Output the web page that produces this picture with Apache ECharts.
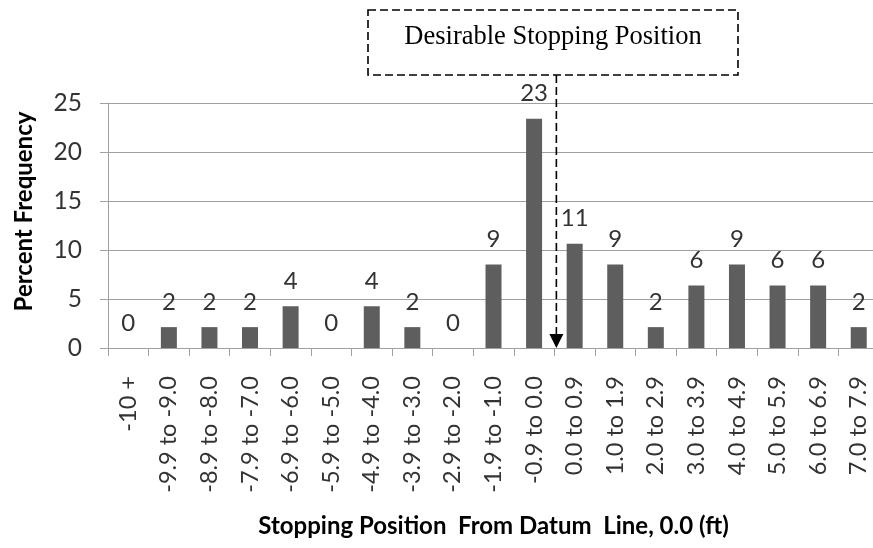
<!DOCTYPE html>
<html>
<head>
<meta charset="utf-8">
<script src="https://cdn.jsdelivr.net/npm/echarts@6.0.0/dist/echarts.min.js"></script>
<style>
    html, body { margin: 0; padding: 0; background: #ffffff; }
    #chart { width: 873px; height: 548px; }
</style>
</head>
<body>
<div id="chart"></div>
<script>
    // stopping position bins (ft from datum line)
    var categories = [
        '-10 +', '-9.9 to -9.0', '-8.9 to -8.0', '-7.9 to -7.0', '-6.9 to -6.0',
        '-5.9 to -5.0', '-4.9 to -4.0', '-3.9 to -3.0', '-2.9 to -2.0', '-1.9 to -1.0',
        '-0.9 to 0.0', '0.0 to 0.9', '1.0 to 1.9', '2.0 to 2.9', '3.0 to 3.9',
        '4.0 to 4.9', '5.0 to 5.9', '6.0 to 6.9', '7.0 to 7.9'
    ];
    // percent frequency per bin
    var percentFrequency = [
        0, 2.13, 2.13, 2.13, 4.26,
        0, 4.26, 2.13, 0, 8.51,
        23.40, 10.64, 8.51, 2.13, 6.38,
        8.51, 6.38, 6.38, 2.13
    ];
    var yTicks = [0, 5, 10, 15, 20, 25];
    var annotationText = 'Desirable Stopping Position';
    var arrowBetween = ['-0.9 to 0.0', '0.0 to 0.9'];

    var font = 'Lato, "Noto Sans", sans-serif';
    var chart = echarts.init(document.getElementById('chart'));

    var option = {
        backgroundColor: '#ffffff',
        animation: false,
        grid: {
            left: 108,
            right: -6,
            top: 103,
            bottom: 200,
            outerBoundsMode: 'none'
        },
        xAxis: {
            type: 'category',
            data: categories,
            name: 'Stopping Position  From Datum  Line, 0.0 (ft)',
            nameLocation: 'middle',
            nameGap: 166,
            nameTextStyle: {
                fontFamily: font,
                fontWeight: 'bold',
                fontSize: 24,
                color: '#000000'
            },
            axisLine: { lineStyle: { color: '#a0a0a0', width: 1 } },
            axisTick: { show: true, length: 8, lineStyle: { color: '#a0a0a0' } },
            axisLabel: {
                rotate: 90,
                interval: 0,
                margin: 28,
                fontFamily: font,
                fontSize: 23.5,
                color: '#333333'
            },
            splitLine: { show: false }
        },
        yAxis: {
            type: 'value',
            min: yTicks[0],
            max: yTicks[yTicks.length - 1],
            interval: 5,
            name: 'Percent Frequency',
            nameLocation: 'middle',
            nameGap: 72,
            nameTextStyle: {
                fontFamily: font,
                fontWeight: 'bold',
                fontSize: 24,
                color: '#000000',
                padding: [0, 0, 0, 28]
            },
            axisLine: { show: true, lineStyle: { color: '#a0a0a0', width: 1 } },
            axisTick: { show: true, length: 8, inside: false, lineStyle: { color: '#a0a0a0' } },
            axisLabel: {
                margin: 26,
                fontFamily: font,
                fontSize: 24.5,
                color: '#333333'
            },
            splitLine: { show: true, lineStyle: { color: '#a0a0a0', width: 1 } }
        },
        series: [{
            type: 'bar',
            data: percentFrequency,
            barWidth: 16,
            itemStyle: { color: '#5e5e5e' },
            label: {
                show: true,
                position: 'top',
                distance: 13,
                fontFamily: font,
                fontSize: 24,
                color: '#333333',
                formatter: function (p) { return Math.round(p.value); }
            }
        }]
    };
    chart.setOption(option);

    // dashed callout box + arrow pointing at the 0.0 boundary
    var c0 = chart.convertToPixel({ xAxisIndex: 0 }, arrowBetween[0]);
    var c1 = chart.convertToPixel({ xAxisIndex: 0 }, arrowBetween[1]);
    var ax = (c0 + c1) / 2 + 2;
    var axisY = chart.convertToPixel({ yAxisIndex: 0 }, 0);
    var boxTop = 10, boxBottom = 75, boxLeft = 368, boxRight = 738;

    chart.setOption({
        graphic: [
            {
                type: 'rect',
                shape: { x: boxLeft, y: boxTop, width: boxRight - boxLeft, height: boxBottom - boxTop },
                style: { fill: 'none', stroke: '#000000', lineWidth: 1.6, lineDash: [8, 4] },
                z: 100
            },
            {
                type: 'text',
                x: (boxLeft + boxRight) / 2,
                y: (boxTop + boxBottom) / 2 - 5,
                style: {
                    text: annotationText,
                    fontFamily: '"Liberation Serif", "DejaVu Serif", serif',
                    fontSize: 26.5,
                    fill: '#000000',
                    align: 'center',
                    verticalAlign: 'middle'
                },
                z: 100
            },
            {
                type: 'line',
                shape: { x1: ax, y1: boxBottom, x2: ax, y2: axisY - 14 },
                style: { stroke: '#000000', lineWidth: 1.6, lineDash: [8, 4] },
                z: 100
            },
            {
                type: 'polygon',
                shape: { points: [[ax - 7, axisY - 14], [ax + 7, axisY - 14], [ax, axisY]] },
                style: { fill: '#000000' },
                z: 100
            }
        ]
    });
</script>
</body>
</html>
